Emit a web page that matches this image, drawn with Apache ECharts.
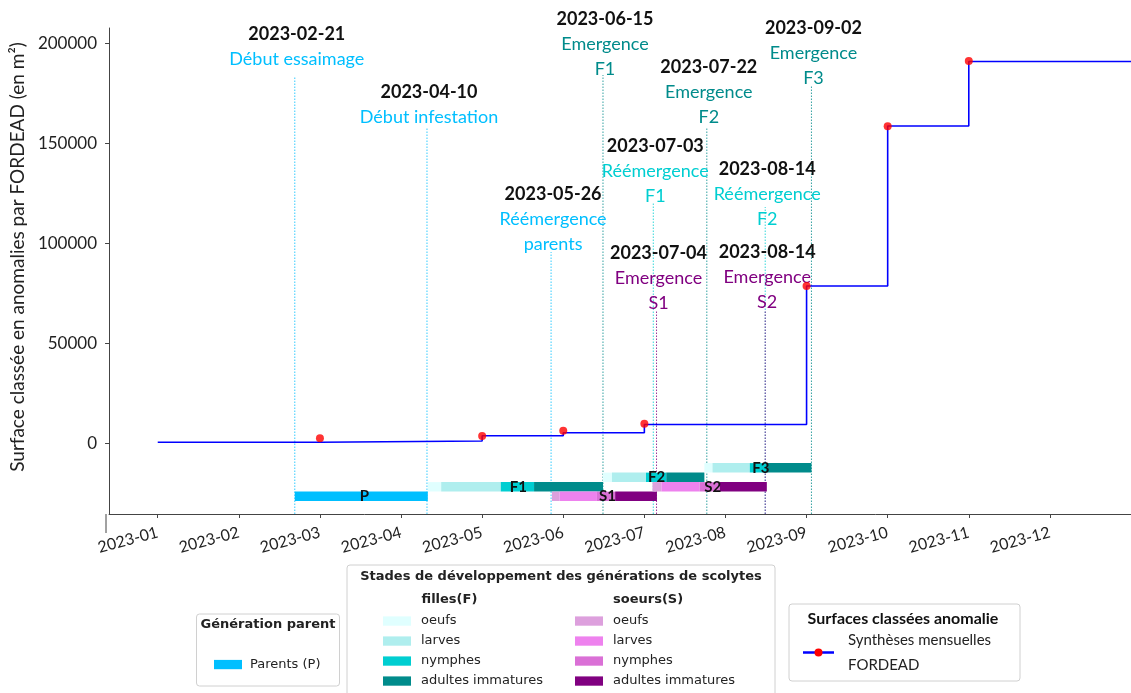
<!DOCTYPE html>
<html>
<head>
<meta charset="utf-8">
<script src="https://cdn.jsdelivr.net/npm/echarts@6/dist/echarts.min.js"></script>
<style>
  html, body { margin: 0; padding: 0; background: #fff; }
  #chart { width: 1131px; height: 693px; }
</style>
</head>
<body>
<div id="chart"></div>
<script>
// x unit = months since 2023-01-01 (the original axis spaces months evenly)
const monthTicks = [0, 1, 2, 3, 4, 5, 6, 7, 8, 9, 10, 11];
const monthLabels = ['2023-01', '2023-02', '2023-03', '2023-04', '2023-05', '2023-06',
  '2023-07', '2023-08', '2023-09', '2023-10', '2023-11', '2023-12'];
const yTicks = [0, 50000, 100000, 150000, 200000];

// FORDEAD monthly syntheses (m²)
const stepX = [0, 2, 4, 5, 6, 8, 9, 10, 12];
const stepY = [500, 1150, 3800, 5300, 9400, 78650, 158650, 190900, 190900];
const dotX = [2, 4, 5, 6, 8, 9, 10];
const dotY = [2500, 3650, 6300, 9800, 78650, 158500, 191150];

// scolyte generations : stage boundaries (oeufs, larves, nymphes, adultes immatures)
const genNames = ['P', 'F1', 'S1', 'F2', 'S2', 'F3'];
const genFamily = ['P', 'F', 'S', 'F', 'S', 'F'];
const genRow = [-26500, -21750, -26500, -17000, -21750, -12250];
const genBounds = [
  [1.69, 3.33],
  [3.33, 3.495, 4.23, 4.64, 5.49],
  [4.86, 4.955, 5.415, 5.64, 6.155],
  [5.49, 5.60, 6.02, 6.27, 6.74],
  [6.10, 6.21, 6.68, 6.93, 7.51],
  [6.74, 6.84, 7.30, 7.50, 8.06]
];

// key dates
const eventX = [1.69, 3.32, 4.85, 5.49, 6.11, 6.15, 6.77, 7.49, 7.49, 8.06];
const eventDate = ['2023-02-21', '2023-04-10', '2023-05-26', '2023-06-15', '2023-07-03',
  '2023-07-04', '2023-07-22', '2023-08-14', '2023-08-14', '2023-09-02'];
const eventText = ['Début essaimage', 'Début infestation', 'Réémergence\nparents', 'Emergence\nF1',
  'Réémergence\nF1', 'Emergence\nS1', 'Emergence\nF2', 'Réémergence\nF2', 'Emergence\nS2', 'Emergence\nF3'];
const eventKind = ['debut', 'debut', 'debut', 'emF', 'reemF', 'emS', 'emF', 'reemF', 'emS', 'emF'];
const eventTop = [183650, 157500, 95650, 184150, 120650, 66650, 158150, 118150, 66650, 179150];
const eventLabelY = [185750, 157050, 93250, 180750, 117400, 64050, 156750, 105750, 64400, 176250];

const Y_MIN = -35350, Y_MAX = 207650;
const BAR_SPAN = 4700;
const FONT = 'Lato, "Open Sans", sans-serif';
const MPL = '"DejaVu Sans", sans-serif';

const kindColor = { debut: '#00BFFF', emF: '#008B8B', reemF: '#00CED1', emS: '#800080' };
const stageColors = {
  P: ['#00BFFF'],
  F: ['#E0FFFF', '#AFEEEE', '#00CED1', '#008B8B'],
  S: ['#DDA0DD', '#EE82EE', '#DA70D6', '#800080']
};

const segData = [];
genBounds.forEach(function (b, g) {
  for (let k = 0; k < b.length - 1; k++) segData.push([b[k], b[k + 1], genRow[g], g, k]);
});
const genLabelData = genBounds.map(function (b, g) {
  return [(b[0] + b[b.length - 1]) / 2, genRow[g], g];
});
const eventData = eventX.map(function (x, i) { return [x, eventTop[i], eventLabelY[i], i]; });

const chart = echarts.init(document.getElementById('chart'));

// legends (matplotlib-like boxes)
function box(x, y, w, h) {
  return { type: 'rect', shape: { x: x, y: y, width: w, height: h, r: 3 },
    style: { fill: '#fff', stroke: '#d0d0d0', lineWidth: 1 }, z: 10 };
}
function txt(x, y, s, opt) {
  return { type: 'text', x: x, y: y, z: 11, style: Object.assign({ text: s, fill: '#222',
    font: '13px ' + MPL, verticalAlign: 'middle', align: 'left' }, opt || {}) };
}
function swatch(x, y, color) {
  return { type: 'rect', shape: { x: x, y: y - 4.6, width: 28, height: 9.3 }, style: { fill: color }, z: 11 };
}
const stageNames = ['oeufs', 'larves', 'nymphes', 'adultes immatures'];
const rowsY = [621, 641, 661, 681];
const graphics = [
  { type: 'line', shape: { x1: 106, y1: 514, x2: 106, y2: 533 }, style: { stroke: '#444', lineWidth: 1 } },
  box(196.5, 614, 143, 72),
  txt(268, 625, 'Génération parent', { font: 'bold 13px ' + MPL, align: 'center' }),
  swatch(214, 664.5, stageColors.P[0]),
  txt(250, 664.5, 'Parents (P)'),
  box(347, 565, 428, 140),
  txt(561, 577, 'Stades de développement des générations de scolytes', { font: 'bold 13px ' + MPL, align: 'center' }),
  txt(421.5, 600, 'filles(F)', { font: 'bold 13px ' + MPL }),
  txt(613, 600, 'soeurs(S)', { font: 'bold 13px ' + MPL }),
  box(789, 604, 231, 77),
  txt(903, 619, 'Surfaces classées anomalie', { font: 'bold 16px ' + FONT, align: 'center', fill: '#111' }),
  { type: 'line', shape: { x1: 803, y1: 652.5, x2: 834, y2: 652.5 }, style: { stroke: '#0000FF', lineWidth: 2.5 }, z: 11 },
  { type: 'circle', shape: { cx: 818.5, cy: 652.5, r: 4 }, style: { fill: '#FF0000' }, z: 12 },
  txt(848, 640, 'Synthèses mensuelles', { font: '15px ' + FONT }),
  txt(848, 665, 'FORDEAD', { font: '15px ' + FONT })
];
stageNames.forEach(function (s, k) {
  graphics.push(swatch(383, rowsY[k], stageColors.F[k]), txt(421, rowsY[k], s));
  graphics.push(swatch(575, rowsY[k], stageColors.S[k]), txt(613, rowsY[k], s));
});

chart.setOption({
  backgroundColor: '#fff',
  animation: false,
  textStyle: { fontFamily: FONT },
  grid: { left: 106, right: -3, top: 28, bottom: 179 },
  xAxis: {
    type: 'value', min: -0.6, max: 12,
    splitLine: { show: false },
    axisLine: { onZero: false, lineStyle: { color: '#444', width: 1 } },
    axisTick: { customValues: monthTicks, length: 4, lineStyle: { color: '#444' } },
    axisLabel: {
      customValues: monthTicks, rotate: 15, margin: 18,
      fontSize: 16, color: '#222', fontFamily: FONT,
      formatter: function (v) { return monthLabels[Math.round(v)]; }
    }
  },
  yAxis: {
    type: 'value', min: Y_MIN, max: Y_MAX,
    splitLine: { show: false },
    axisLine: { show: true, onZero: false, lineStyle: { color: '#444', width: 1 } },
    axisTick: { show: true, customValues: yTicks, length: 4, lineStyle: { color: '#444' } },
    axisLabel: { customValues: yTicks, margin: 12, fontSize: 17, color: '#222', fontFamily: FONT,
      formatter: function (v) { return String(v); } },
    name: 'Surface classée en anomalies par FORDEAD (en m²)',
    nameLocation: 'middle', nameGap: 80, nameRotate: 90,
    nameTextStyle: { fontSize: 19, color: '#222', fontFamily: FONT, padding: [0, 0, 0, 28] }
  },
  graphic: graphics,
  series: [
    {
      type: 'custom', name: 'events', clip: false, z: 1,
      data: eventData,
      renderItem: function (params, api) {
        const i = api.value(3);
        const x = api.value(0);
        const b = api.coord([x, Y_MIN]);
        const t = api.coord([x, api.value(1)]);
        const l = api.coord([x, api.value(2)]);
        const c = kindColor[eventKind[i]];
        const body = eventText[i].split('\n').map(function (s) { return '{t|' + s + '}'; }).join('\n');
        return {
          type: 'group',
          children: [
            { type: 'line', shape: { x1: b[0], y1: b[1], x2: t[0], y2: t[1] },
              style: { stroke: c, lineWidth: 1, lineDash: [1.5, 1.5], opacity: 0.8 } },
            { type: 'text', x: l[0] + 2, y: l[1], z2: 5,
              style: {
                text: '{d|' + eventDate[i] + '}\n' + body,
                align: 'center', verticalAlign: 'bottom',
                rich: {
                  d: { fontFamily: FONT, fontWeight: 'bold', fontSize: 18, fill: '#111', lineHeight: 25, align: 'center' },
                  t: { fontFamily: FONT, fontSize: 18, fill: c, lineHeight: 25, align: 'center' }
                }
              } }
          ]
        };
      }
    },
    {
      type: 'custom', name: 'stades', z: 2,
      data: segData,
      renderItem: function (params, api) {
        const p0 = api.coord([api.value(0), api.value(2)]);
        const p1 = api.coord([api.value(1), api.value(2)]);
        const h = api.size([0, BAR_SPAN])[1];
        const fam = genFamily[api.value(3)];
        return { type: 'rect', shape: { x: p0[0], y: p0[1] - h / 2, width: p1[0] - p0[0], height: h },
          style: { fill: stageColors[fam][api.value(4)] } };
      }
    },
    {
      type: 'custom', name: 'generations', z: 3,
      data: genLabelData,
      renderItem: function (params, api) {
        const p = api.coord([api.value(0), api.value(1)]);
        return { type: 'text', x: p[0] + 3, y: p[1],
          style: { text: genNames[api.value(2)], align: 'center', verticalAlign: 'middle',
            font: 'bold 15px ' + FONT, fill: '#111' } };
      }
    },
    {
      type: 'line', name: 'FORDEAD', step: 'end', z: 4,
      data: stepX.map(function (x, i) { return [x, stepY[i]]; }),
      showSymbol: false, symbol: 'none',
      lineStyle: { color: '#0000FF', width: 1.6 }
    },
    {
      type: 'scatter', name: 'FORDEAD points', z: 5,
      data: dotX.map(function (x, i) { return [x, dotY[i]]; }),
      symbolSize: 8, itemStyle: { color: '#FF0000' }
    }
  ]
});
</script>
</body>
</html>
